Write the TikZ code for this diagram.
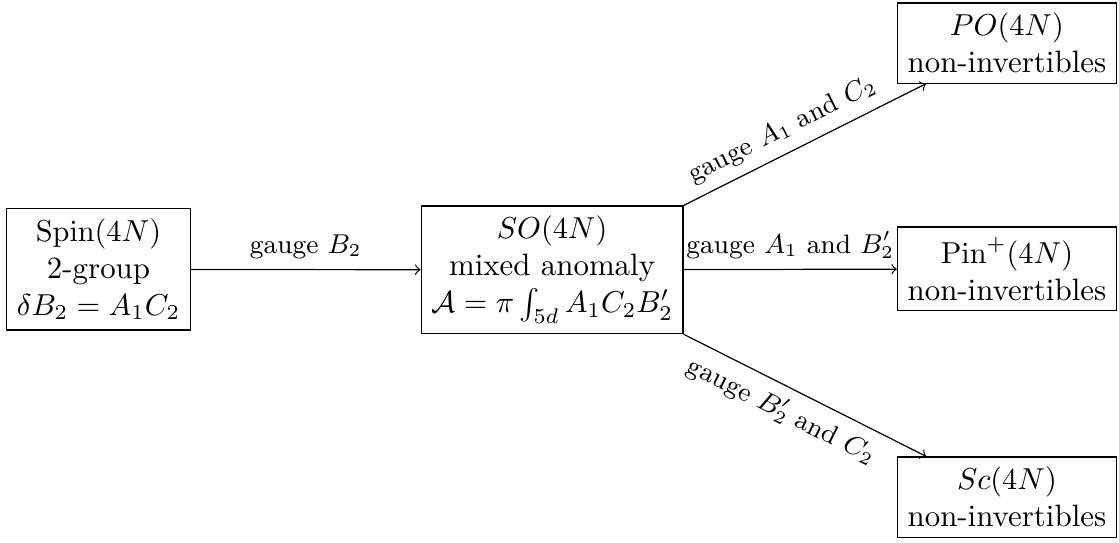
\documentclass[tikz,border=0pt]{standalone}
\begin{document}
\begin{tikzpicture}[box/.style={draw, align=center, font=\fontsize{10.2}{12.2}\selectfont}, lab/.style={font=\fontsize{8.8}{10.5}\selectfont}]
\useasboundingbox (0,0) rectangle (12.98,-6.288);
\node[box] (spin) at (1.143,-3.125) {$\mathrm{Spin}(4N)$\\2-group\\$\delta B_2=A_1C_2$};
\node[box] (so) at (6.404,-3.13) {$SO(4N)$\\mixed anomaly\\$\mathcal{A}=\pi\int_{5d}A_1C_2B_2'$};
\node[box] (po) at (11.68,-0.499) {$PO(4N)$\\non-invertibles};
\node[box] (pin) at (11.68,-3.12) {$\mathrm{Pin}^+(4N)$\\non-invertibles};
\node[box] (sc) at (11.68,-5.766) {$Sc(4N)$\\non-invertibles};
\draw[->] (spin) -- node[above,lab]{gauge $B_2$} (so);
\draw[->] (so.north east) -- node[pos=0.45,above,sloped,lab]{gauge $A_1$ and $C_2$} (po);
\draw[->] (so) -- node[above,lab]{gauge $A_1$ and $B_2'$} (pin);
\draw[->] (so.south east) -- node[pos=0.45,below,sloped,lab]{gauge $B_2'$ and $C_2$} (sc);
\end{tikzpicture}
\end{document}
